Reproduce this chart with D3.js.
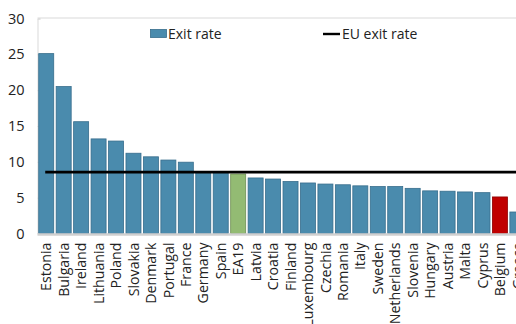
<!DOCTYPE html>
<html>
<head>
<meta charset="utf-8">
<script src="https://cdn.jsdelivr.net/npm/d3@7"></script>
<style>
  html, body { margin: 0; padding: 0; background: #fff; }
  svg { display: block; font-family: "Open Sans", "Noto Sans", sans-serif; }
</style>
</head>
<body>
<svg id="chart" width="516" height="324"></svg>
<script>
// Exit rates by country, in per cent
const countries = ["Estonia", "Bulgaria", "Ireland", "Lithuania", "Poland", "Slovakia", "Denmark",
  "Portugal", "France", "Germany", "Spain", "EA19", "Latvia", "Croatia", "Finland", "Luxembourg",
  "Czechia", "Romania", "Italy", "Sweden", "Netherlands", "Slovenia", "Hungary", "Austria",
  "Malta", "Cyprus", "Belgium", "Greece"];
const exitRate = [25.1, 20.5, 15.6, 13.2, 12.9, 11.2, 10.7, 10.25, 9.95, 8.6, 8.6, 8.3, 7.75,
  7.6, 7.25, 7.05, 6.9, 6.8, 6.65, 6.55, 6.55, 6.3, 5.95, 5.9, 5.8, 5.7, 5.1, 3.0];
const euExitRate = 8.57;
const yTicks = [0, 5, 10, 15, 20, 25, 30];
const legendLabels = ["Exit rate", "EU exit rate"];

const svg = d3.select("#chart");
const plotLeft = 37.5, plotTop = 18.5, plotBottom = 233.5;
const step = 17.45;

const x = d3.scaleBand()
  .domain(countries)
  .range([plotLeft, plotLeft + step * countries.length])
  .paddingInner(0.14)
  .paddingOuter(0.07);

const y = d3.scaleLinear().domain([0, 30]).range([plotBottom, plotTop]);

const barColour = d => d === "EA19" ? "#93bb73" : d === "Belgium" ? "#c00000" : "#4a8bad";
const edgeColour = d => d === "EA19" ? "#6f8f55" : d === "Belgium" ? "#8e0000" : "#376d8c";

// plot frame: top border
svg.append("line")
  .attr("x1", plotLeft).attr("x2", 516)
  .attr("y1", plotTop - 0.5).attr("y2", plotTop - 0.5)
  .attr("stroke", "#d9d9d9").attr("stroke-width", 1.2);

// y axis
const yAxis = svg.append("g")
  .attr("transform", `translate(${plotLeft},0)`)
  .call(d3.axisLeft(y).tickValues(yTicks).tickSize(-3).tickPadding(13));
yAxis.select(".domain").attr("stroke", "#d9d9d9");
yAxis.selectAll(".tick line").attr("stroke", "#d9d9d9");
yAxis.selectAll(".tick text")
  .attr("fill", "#222").attr("font-size", 14.5)
  .attr("font-family", "'Open Sans', sans-serif");

// bars
svg.append("g").selectAll("rect")
  .data(countries)
  .join("rect")
  .attr("x", d => x(d))
  .attr("width", x.bandwidth())
  .attr("y", (d, i) => y(exitRate[i]))
  .attr("height", (d, i) => y(0) - y(exitRate[i]))
  .attr("fill", barColour)
  .attr("stroke", edgeColour)
  .attr("stroke-width", 0.8);

// x axis baseline
svg.append("line")
  .attr("x1", plotLeft).attr("x2", 516)
  .attr("y1", plotBottom + 1).attr("y2", plotBottom + 1)
  .attr("stroke", "#d0d0d0").attr("stroke-width", 2.5);

// EU reference line
svg.append("line")
  .attr("x1", x(countries[0]) + x.bandwidth() / 2 - 1)
  .attr("x2", 516)
  .attr("y1", y(euExitRate)).attr("y2", y(euExitRate))
  .attr("stroke", "#000").attr("stroke-width", 2.6);

// category labels, rotated and hanging below the axis
const xAxis = svg.append("g")
  .attr("transform", `translate(0,${plotBottom})`)
  .call(d3.axisBottom(x).tickSize(0));
xAxis.select(".domain").remove();
xAxis.selectAll(".tick text")
  .attr("transform", "rotate(-90)")
  .attr("text-anchor", "end")
  .attr("x", -9)
  .attr("y", 0)
  .attr("dy", "0.36em")
  .attr("fill", "#222")
  .attr("font-size", 14.2)
  .attr("font-family", "'Open Sans', sans-serif");

// legend
const legend = svg.append("g").attr("font-size", 14).attr("fill", "#222");
legend.append("rect")
  .attr("x", 150.5).attr("y", 29.5).attr("width", 16).attr("height", 8)
  .attr("fill", "#4a8bad").attr("stroke", "#376d8c").attr("stroke-width", 0.8);
legend.append("text").attr("x", 168).attr("y", 34).attr("dy", "0.35em").text(legendLabels[0]);
legend.append("line")
  .attr("x1", 323).attr("x2", 340).attr("y1", 34).attr("y2", 34)
  .attr("stroke", "#000").attr("stroke-width", 2.4);
legend.append("text").attr("x", 342).attr("y", 34).attr("dy", "0.35em").text(legendLabels[1]);
</script>
</body>
</html>
